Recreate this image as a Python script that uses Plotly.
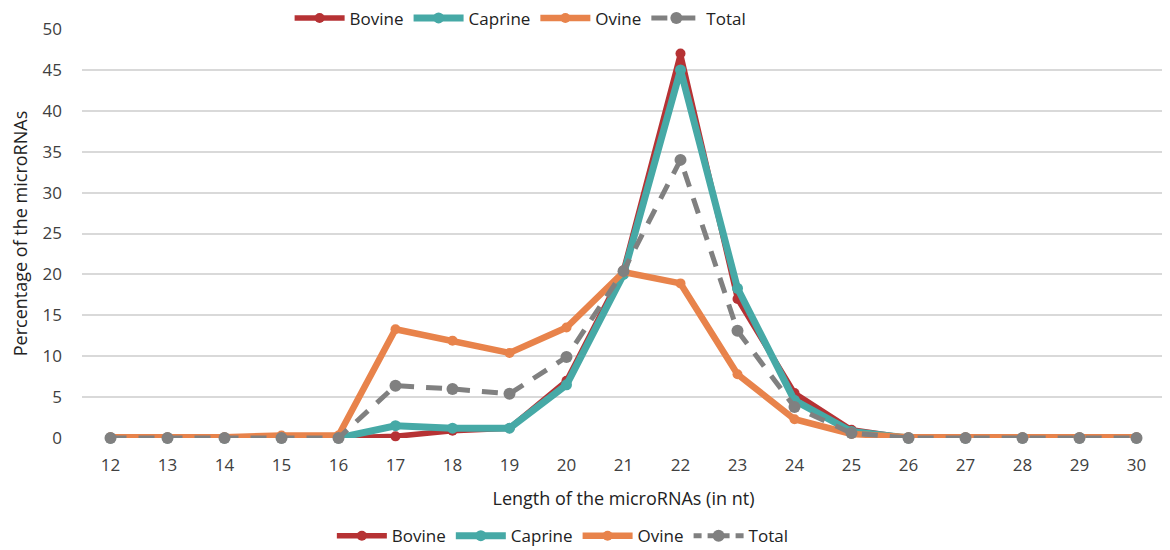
import plotly.graph_objects as go

lengths = [12, 13, 14, 15, 16, 17, 18, 19, 20, 21, 22, 23, 24, 25, 26, 27, 28, 29, 30]
tick_labels = [str(v) for v in lengths]
bovine = [0, 0, 0, 0, 0, 0.2, 0.9, 1.2, 7.0, 20.5, 47.0, 17.0, 5.5, 1.0, 0, 0, 0, 0, 0]
caprine = [0, 0, 0, 0, 0, 1.5, 1.2, 1.2, 6.5, 20.0, 45.0, 18.3, 4.6, 0.8, 0, 0, 0, 0, 0]
ovine = [0.1, 0.1, 0.1, 0.3, 0.3, 13.3, 11.9, 10.4, 13.5, 20.3, 18.9, 7.8, 2.3, 0.5, 0.1, 0.1, 0.1, 0.1, 0.1]
total = [0, 0, 0, 0, 0, 6.4, 6.0, 5.4, 9.9, 20.4, 34.0, 13.1, 3.8, 0.6, 0, 0, 0, 0, 0]

series = [
    ("Bovine", bovine, "#B63234", 5.5, "solid", 10),
    ("Caprine", caprine, "#46A9A6", 7, "solid", 11),
    ("Ovine", ovine, "#E8834B", 6.5, "solid", 10),
    ("Total", total, "#808080", 5, "dash", 12),
]

fig = go.Figure()
for name, vals, col, w, dash, ms in series:
    fig.add_trace(go.Scatter(
        x=lengths, y=vals, name=name, mode="lines+markers",
        line=dict(color=col, width=w, dash=dash if dash == "solid" else "16px,12px"),
        marker=dict(color=col, size=ms), cliponaxis=False, legend="legend"))
for name, vals, col, w, dash, ms in series:
    fig.add_trace(go.Scatter(
        x=[None], y=[None], name=name, mode="lines+markers",
        line=dict(color=col, width=w, dash=dash if dash == "solid" else "8px,6px"),
        marker=dict(color=col, size=ms), legend="legend2"))

font = "Open Sans, Liberation Sans, sans-serif"
fig.update_layout(
    width=1162, height=542,
    margin=dict(l=74, r=5, t=21, b=112, autoexpand=False),
    plot_bgcolor="white", paper_bgcolor="white",
    font=dict(family=font, size=16, color="#404040"),
    legend=dict(orientation="h", x=0.405, xanchor="center", y=1.026, yanchor="middle",
                font=dict(size=17, color="#222"), itemwidth=50, traceorder="normal"),
    legend2=dict(orientation="h", x=0.444, xanchor="center", y=-0.24, yanchor="middle",
                 font=dict(size=17, color="#222"), itemwidth=50, traceorder="normal"),
    xaxis=dict(range=[11.5, 30.5], tickvals=lengths, ticktext=tick_labels,
               showgrid=False, zeroline=False, showline=False, ticks="",
               ticklabelstandoff=15,
               tickfont=dict(size=17, color="#404040"),
               title=dict(text="Length of the microRNAs (in nt)", font=dict(size=18, color="#222"), standoff=17)),
    yaxis=dict(range=[0, 50], dtick=5, showgrid=True, gridcolor="#D9D9D9", gridwidth=1.5,
               zeroline=False, showline=False, ticks="",
               ticklabelstandoff=19,
               tickfont=dict(size=17, color="#404040"),
               title=dict(text="Percentage of the microRNAs", font=dict(size=18, color="#222"), standoff=14)),
)
fig.write_html("out.html")
